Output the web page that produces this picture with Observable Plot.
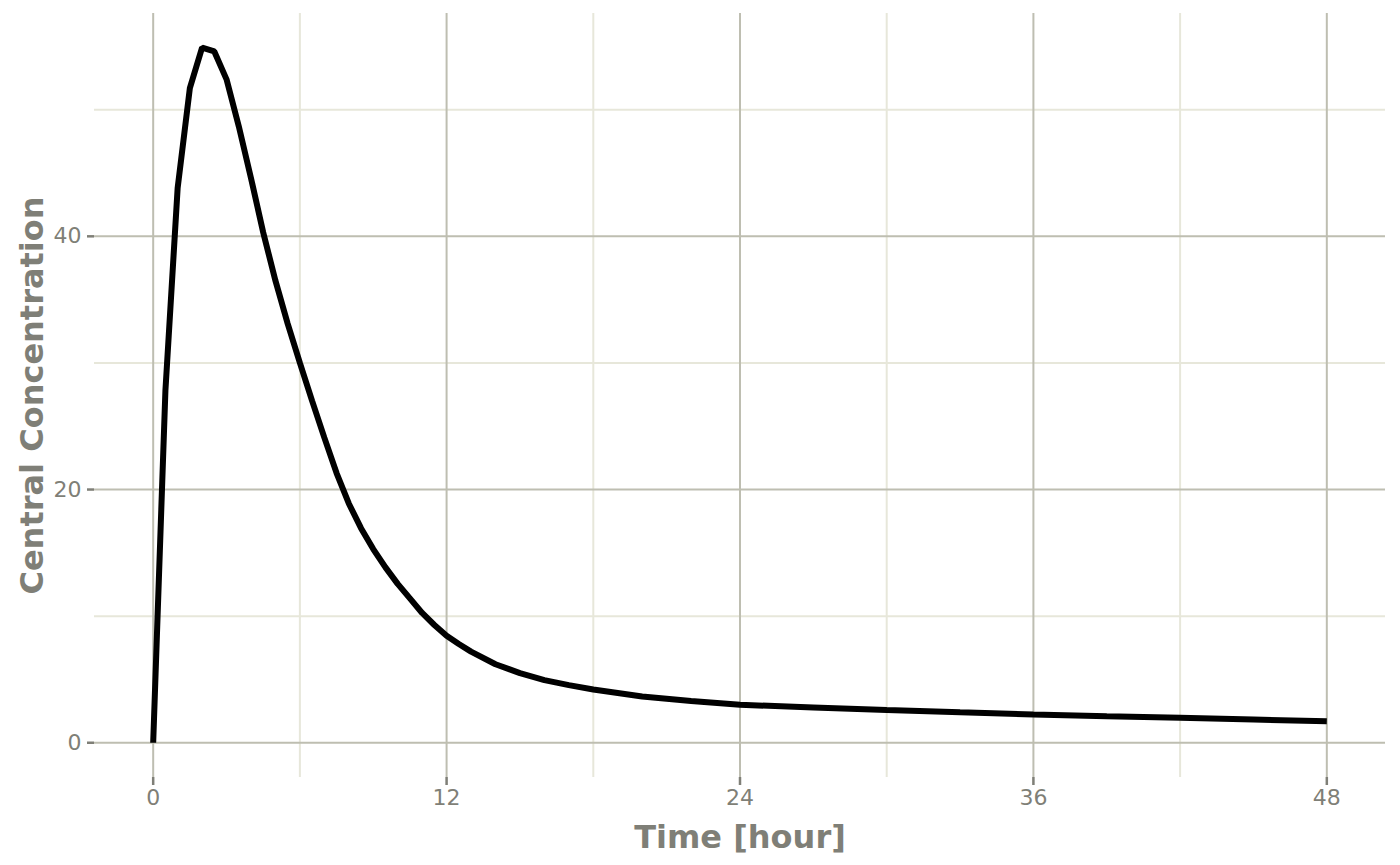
<!DOCTYPE html>
<html>
<head>
<meta charset="utf-8">
<script src="https://cdn.jsdelivr.net/npm/d3@7"></script>
<script src="https://cdn.jsdelivr.net/npm/@observablehq/plot@0.6"></script>
<style>
  body { margin: 0; background: #fff; }
  #chart { width: 1400px; height: 865px; }
</style>
</head>
<body>
<div id="chart"></div>
<script>
// time (hour) and central concentration
const time = [0, 0.5, 1, 1.5, 2, 2.5, 3, 3.5, 4, 4.5, 5, 5.5, 6, 6.5, 7, 7.5, 8, 8.5, 9, 9.5, 10, 10.5, 11, 11.5, 12, 12.5,
  13, 14, 15, 16, 17, 18, 20, 22, 24, 27, 30, 33, 36, 39, 42, 45, 48]
const conc = [0, 27.8, 43.8, 51.7, 54.9, 54.6, 52.4, 48.7, 44.6, 40.3, 36.5, 33.1, 30.0, 27.0, 24.1, 21.3, 18.9, 16.95, 15.3, 13.85, 12.55, 11.4, 10.25, 9.3, 8.45, 7.8,
  7.2, 6.2, 5.5, 4.95, 4.55, 4.2, 3.65, 3.3, 3.0, 2.79, 2.58, 2.4, 2.24, 2.1, 1.97, 1.83, 1.69]

const xMajor = [0, 12, 24, 36, 48]
const xMinor = [6, 18, 30, 42]
const yMajor = [0, 20, 40]
const yMinor = [10, 30, 50]

const data = time.map((t, i) => ({time: t, conc: conc[i]}))

const majorCol = "#bebeb1"
const minorCol = "#e7e7da"
const textCol = "#7f7f77"

let chart = Plot.plot({
  width: 1400,
  height: 865,
  marginLeft: 94,
  marginRight: 15,
  marginTop: 13,
  marginBottom: 88,
  style: {fontFamily: "DejaVu Sans", background: "#fff"},
  x: {domain: [-2.4, 50.4], label: null},
  y: {domain: [-2.745, 57.6], label: null},
  marks: [
    Plot.ruleX(xMinor, {stroke: minorCol, strokeWidth: 2}),
    Plot.ruleY(yMinor, {stroke: minorCol, strokeWidth: 2}),
    Plot.ruleX(xMajor, {stroke: majorCol, strokeWidth: 2}),
    Plot.ruleY(yMajor, {stroke: majorCol, strokeWidth: 2}),
    Plot.axisX({ticks: xMajor, tickSize: 8, tickPadding: 4, stroke: textCol, strokeWidth: 2.5,
      fill: textCol, fontSize: 22, label: null}),
    Plot.axisY({ticks: yMajor, tickSize: 7, tickPadding: 6, stroke: textCol, strokeWidth: 2.5,
      fill: textCol, fontSize: 22, label: null}),
    Plot.line(data, {x: "time", y: "conc", stroke: "#000", strokeWidth: 6,
      strokeLinecap: "butt", strokeLinejoin: "miter"}),
    Plot.text(["Time [hour]"], {frameAnchor: "bottom", dy: 70, fill: textCol,
      fontSize: 32, fontWeight: "bold"}),
    Plot.text(["Central Concentration"], {frameAnchor: "left", dx: -62, rotate: -90,
      textAnchor: "middle", fill: textCol, fontSize: 32, fontWeight: "bold"})
  ]
})
d3.select('#chart').append(() => chart)
</script>
</body>
</html>
